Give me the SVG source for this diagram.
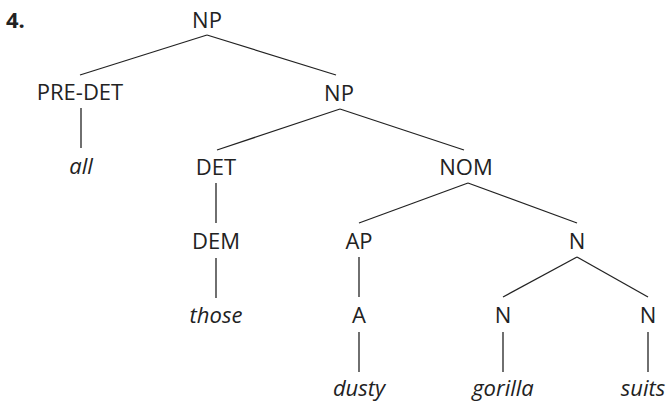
<svg xmlns="http://www.w3.org/2000/svg" width="672" height="406" viewBox="0 0 672 406">
<style>
text{font-family:"Open Sans","Noto Sans",sans-serif;font-size:22px;fill:#222;text-anchor:middle}
.w{font-style:italic}
.num{font-weight:bold;text-anchor:start}
#edges line{stroke:#222;stroke-width:1.3}
</style>
<rect width="672" height="406" fill="#fff"/>
<text class="num" x="6" y="28">4.</text>
<g id="edges">
<line x1="207" y1="35" x2="80" y2="75"/>
<line x1="207" y1="35" x2="336" y2="75"/>
<line x1="81" y1="108" x2="81" y2="148"/>
<line x1="340" y1="109" x2="217" y2="150"/>
<line x1="340" y1="109" x2="464" y2="150"/>
<line x1="216" y1="183" x2="216" y2="223"/>
<line x1="216" y1="258" x2="216" y2="298"/>
<line x1="468" y1="183" x2="359" y2="223"/>
<line x1="468" y1="183" x2="577" y2="223"/>
<line x1="359" y1="257" x2="359" y2="297"/>
<line x1="359" y1="332" x2="359" y2="372"/>
<line x1="577" y1="257" x2="503" y2="297"/>
<line x1="577" y1="257" x2="648" y2="297"/>
<line x1="503" y1="332" x2="503" y2="372"/>
<line x1="648" y1="332" x2="648" y2="372"/>
</g>
<g id="np1"><text x="207" y="28">NP</text></g>
<g id="predet"><text x="80" y="100">PRE-DET</text></g>
<g id="np2"><text x="339" y="101">NP</text></g>
<g id="all"><text class="w" x="81" y="174">all</text></g>
<g id="det"><text x="216" y="175">DET</text></g>
<g id="nom"><text x="466" y="175">NOM</text></g>
<g id="dem"><text x="216" y="249">DEM</text></g>
<g id="ap"><text x="359" y="249">AP</text></g>
<g id="n1"><text x="577" y="249">N</text></g>
<g id="those"><text class="w" x="216" y="323">those</text></g>
<g id="a"><text x="359" y="323">A</text></g>
<g id="n2"><text x="503" y="323">N</text></g>
<g id="n3"><text x="648" y="323">N</text></g>
<g id="dusty"><text class="w" x="359" y="396">dusty</text></g>
<g id="gorilla"><text class="w" x="503" y="396">gorilla</text></g>
<g id="suits"><text class="w" x="643" y="396">suits</text></g>
</svg>
